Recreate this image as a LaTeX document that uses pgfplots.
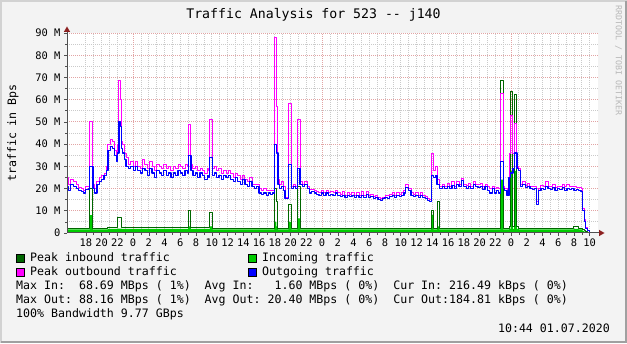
\documentclass[border=0pt]{standalone}
\usepackage{fontspec}
\setmainfont{DejaVu Sans Mono}
\usepackage{pgfplots}
\usepackage{pgfplotstable}
\pgfplotsset{compat=1.18}
\definecolor{bgc}{HTML}{F3F3F3}
\definecolor{incol}{HTML}{00CC00}
\definecolor{pincol}{HTML}{006600}
\definecolor{outcol}{HTML}{0000FF}
\definecolor{poutcol}{HTML}{FF00FF}
\definecolor{mgrid}{HTML}{E2A4A4}
\definecolor{ngrid}{HTML}{CACACA}
\definecolor{axcol}{HTML}{505050}
\definecolor{arrcol}{HTML}{8C2020}
\definecolor{wmcol}{HTML}{B8B8B8}
\definecolor{shadea}{HTML}{D2D2D2}
\definecolor{shadeb}{HTML}{A0A0A0}

\pgfplotstableread{
h inav inpk outav outpk
-8.40 1.6 2.2 21 25
-8.20 1.6 2.2 19 22
-8.00 1.6 2.2 22 24
-7.60 1.6 2.2 21 23
-7.20 1.6 2.2 20 22
-6.90 1.6 2.2 19 20.5
-6.60 1.6 2.2 18.5 20
-6.30 1.6 2.2 18 19
-6.00 1.6 2.2 19.5 21
-5.60 1.6 2.2 20 21.5
-5.50 8 20 30 50
-5.10 1.6 2.2 20 22
-4.90 1.6 2.2 18 20
-4.60 1.6 2.2 22 23
-4.30 1.6 2.2 23 25
-4.00 1.6 2.2 24 26
-3.70 1.6 2.2 26 27
-3.40 1.6 2.2 28 30
-3.20 1.8 2.5 37 40
-2.90 1.8 2.5 39 42
-2.60 1.8 2.5 38 41
-2.40 1.8 2.5 35 37
-2.10 1.8 2.5 32 34
-1.95 2 7 36 40
-1.80 2 7 50 68.7
-1.65 2 7 48 60
-1.45 1.8 2.5 38 41
-1.30 1.8 2.5 36 40
-1.10 1.8 2.5 33 36
-0.90 1.8 2.5 30 34
-0.60 1.8 2.5 29 31
-0.30 1.8 2.5 30 32
0.00 1.8 2.5 28 30
0.30 1.8 2.5 30 32
0.60 1.8 2.5 28 30
0.90 1.8 2.5 27 29
1.20 1.8 2.5 29 33
1.50 1.8 2.5 28 31
1.80 1.8 2.5 26 29
2.10 1.8 2.5 29 32
2.40 1.8 2.5 27 30
2.70 1.8 2.5 25 28
3.00 1.8 2.5 28 31
3.30 1.8 2.5 27 30
3.60 1.8 2.5 26 29
3.90 1.8 2.5 28 31
4.20 1.8 2.5 26 29
4.50 1.8 2.5 27 30
4.80 1.8 2.5 25 28
5.10 1.8 2.5 27 30
5.40 1.8 2.5 26 29
5.70 1.8 2.5 28 31
6.00 1.8 2.5 27 30
6.30 1.8 2.5 26 29
6.60 1.8 2.5 28 31
6.90 1.8 2.5 27 30
7.00 3 10 35 49
7.35 1.8 2.5 28 31
7.60 1.8 2.5 26 29
7.90 1.8 2.5 27 30
8.20 1.8 2.5 25 28
8.50 1.8 2.5 27 29
8.80 1.8 2.5 26 28
9.10 1.8 2.5 24 27
9.40 1.8 2.5 26 29
9.60 1.8 2.5 25 28
9.75 3 9 34 51
10.10 1.6 2.2 26 29
10.30 1.6 2.2 27 30
10.60 1.6 2.2 25 28
10.90 1.6 2.2 26 29
11.20 1.6 2.2 24 27
11.50 1.6 2.2 26 28
11.80 1.6 2.2 25 27
12.10 1.6 2.2 26 28
12.40 1.6 2.2 24 27
12.70 1.6 2.2 23 25
13.00 1.6 2.2 25 27
13.30 1.6 2.2 23 26
13.60 1.6 2.2 22 24
13.90 1.6 2.2 24 26
14.20 1.6 2.2 22 24
14.50 1.6 2.2 21 23
14.80 1.6 2.2 23 25
15.10 1.6 2.2 21 22
15.40 1.6 2.2 20 22
15.70 1.6 2.2 21 22
16.00 1.6 2.2 18 20
16.30 1.6 2.2 17.5 19
16.60 1.6 2.2 18 20
16.90 1.6 2.2 17 19
17.20 1.6 2.2 18 19
17.50 1.6 2.2 17.5 19
17.75 1.6 2.2 18 19
17.95 5 20 40 88.16
18.20 3 14 36 57
18.40 1.6 2.2 22 24
18.55 1.6 2.2 20 22
18.80 1.6 2.2 21 23
19.10 1.6 2.2 19 21
19.30 1.6 2.2 15.5 16
19.75 5 12.6 31 58.5
20.10 1.6 2.2 20 21
20.40 1.6 2.2 21 22
20.60 1.6 2.2 20 21
20.85 6.6 21 29 51
21.20 1.6 2.2 22 23
21.50 1.6 2.2 21 22
21.80 1.6 2.2 22 23
22.10 1.6 2.2 20 21
22.40 1.6 2.2 18 19.5
22.70 1.6 2.2 18.5 19.5
23.00 1.6 2.2 18 19
23.30 1.6 2.2 17.5 18.5
23.60 1.6 2.2 17 18
23.90 1.6 2.2 18 19
24.20 1.6 2.2 17 18
24.50 1.6 2.2 18 19
24.80 1.6 2.2 17 18
25.10 1.6 2.2 17.5 18.5
25.40 1.6 2.2 17 18
25.70 1.6 2.2 18 19
26.00 1.6 2.2 17 18
26.30 1.6 2.2 16.5 17.5
26.60 1.6 2.2 17 18.5
26.90 1.6 2.2 16 17
27.20 1.6 2.2 17 18
27.50 1.6 2.2 16.5 17.5
27.80 1.6 2.2 17 18
28.10 1.6 2.2 16 17
28.40 1.6 2.2 17 18
28.70 1.6 2.2 16 17
29.00 1.6 2.2 17 18.5
29.30 1.6 2.2 16 17
29.60 1.6 2.2 17.5 18.5
29.90 1.6 2.2 16 17
30.20 1.6 2.2 16.5 17.5
30.50 1.6 2.2 15.5 16.5
30.80 1.6 2.2 16 17
31.10 1.6 2.2 15 16
31.40 1.6 2.2 14.5 15.5
31.70 1.6 2.2 15.5 16
32.00 1.6 2.2 16 17
32.30 1.6 2.2 15.5 17
32.60 1.6 2.2 16.5 17.5
32.90 1.6 2.2 17 18
33.20 1.6 2.2 16 17
33.50 1.6 2.2 17 18
33.80 1.6 2.2 16.5 17.5
34.10 1.6 2.2 17 18
34.40 1.6 2.2 18 19
34.60 1.6 2.2 20.5 22
35.00 1.6 2.2 19 20
35.30 1.6 2.2 17 18
35.60 1.6 2.2 16.5 17.5
35.90 1.6 2.2 17 18
36.20 1.6 2.2 16 17
36.50 1.6 2.2 17 18
36.80 1.6 2.2 16 17
37.10 1.6 2.2 15.5 16.5
37.40 1.6 2.2 14.5 15.5
37.60 1.6 2.2 14 15
37.85 8 10 26 36
38.15 1.6 2.2 25 28
38.40 1.6 2.2 26 30
38.60 3 14 22 24
38.90 1.6 2.2 20 21
39.00 1.6 2.2 20 21
39.30 1.6 2.2 21 22
39.60 1.6 2.2 20 21
39.90 1.6 2.2 21 22.5
40.20 1.6 2.2 20 21
40.50 1.6 2.2 21.5 23
40.80 1.6 2.2 20 21
41.10 1.6 2.2 22 23
41.40 1.6 2.2 21 22
41.70 1.6 2.2 23.5 24.5
42.00 1.6 2.2 21 22
42.30 1.6 2.2 20 21.5
42.60 1.6 2.2 21 22.5
42.90 1.6 2.2 20 21
43.20 1.6 2.2 22 23
43.50 1.6 2.2 21 22
43.80 1.6 2.2 20.5 22
44.10 1.6 2.2 21 22.5
44.40 1.6 2.2 19.5 21
44.70 1.6 2.2 21 22
45.00 1.6 2.2 19 21
45.30 1.6 2.2 18 20
45.60 1.6 2.2 20 21
45.90 1.6 2.2 18 20
46.20 1.6 2.2 19 20.5
46.45 1.6 2.2 18 20
46.65 24 68.69 32 63
47.00 1.6 2.2 20 21
47.20 1.6 2.2 19 20
47.50 1.6 2.2 17 18
47.75 1.8 3 25 36
47.95 28 63.5 27 53
48.25 1.8 3 29 36
48.40 28 62.5 36 49.5
48.75 1.8 3 29 30
49.00 1.6 2.2 28 29
49.20 1.6 2.2 21 22
49.50 1.6 2.2 22 23
49.80 1.6 2.2 20.5 21.5
50.10 1.6 2.2 21 22.5
50.40 1.6 2.2 20 21
50.70 1.6 2.2 19.5 21
51.00 1.6 2.2 20 21
51.20 1.6 2.2 13 14
51.45 1.6 2.2 19 20
51.80 1.6 2.2 20 21.5
52.10 1.6 2.2 19.5 21
52.40 1.6 2.2 21 23
52.70 1.6 2.2 20 21
53.00 1.6 2.2 19.5 21
53.30 1.6 2.2 20.5 22
53.60 1.6 2.2 19 20.5
53.90 1.6 2.2 20 21
54.20 1.6 2.2 19.5 21
54.50 1.6 2.2 20.5 22
54.80 1.6 2.2 19 21
55.10 1.6 2.2 20 22
55.40 1.6 2.2 19.5 21
55.70 1.6 2.2 20 21
56.00 1.8 2.8 19 21
56.30 1.8 2.8 19.5 20.5
56.60 1.6 2.2 19 20.5
56.90 1.6 2.2 18.5 20
57.10 1.0 1.5 10 11
57.30 0.6 0.9 5 6
57.50 0.3 0.5 2 2.5
57.70 0.2 0.3 1 1.2
58.00 0.2 0.2 0.3 0.3
59.05 0.2 0.2 0.3 0.3
}\traffic

\newcommand{\legfont}{\fontsize{11.6}{14}\selectfont}

\begin{document}
\begin{tikzpicture}[x=1pt,y=1pt]
\fill[bgc] (0,0) rectangle (627,343);
\draw[line width=2pt, shadea] (1,0) -- (1,342) -- (627,342);
\draw[line width=2pt, shadeb] (1,1) -- (626,1) -- (626,342);

\begin{axis}[
  at={(67pt,110pt)}, anchor=south west,
  width=531pt, height=200pt, scale only axis,
  xmin=-8.4, xmax=59.05, ymin=0, ymax=90,
  axis line style={draw=none},
  axis background/.style={fill=white},
  /pgf/number format/assume math mode=true,
  xtick={-6,-4,...,58},
  xticklabels={18,20,22,0,2,4,6,8,10,12,14,16,18,20,22,0,2,4,6,8,10,12,14,16,18,20,22,0,2,4,6,8,10},
  minor x tick num=1,
  ytick={0,10,...,90},
  yticklabels={0,10 M,20 M,30 M,40 M,50 M,60 M,70 M,80 M,90 M},
  minor y tick num=1,
  xmajorgrids=true, xminorgrids=true, yminorgrids=true, ymajorgrids=false,
  major grid style={ngrid, line width=0.8pt, dash pattern=on 1pt off 1pt},
  minor grid style={ngrid, line width=0.8pt, dash pattern=on 1pt off 1pt},
  extra x ticks={0,24,48}, extra x tick labels={},
  extra y ticks={10,20,...,90}, extra y tick labels={},
  extra tick style={grid=major, major grid style={mgrid, line width=0.8pt, dash pattern=on 1pt off 1pt}},
  xtick pos=left, ytick pos=left,
  tick align=outside,
  major tick length=3pt, minor tick length=2pt,
  tick style={axcol, line width=0.6pt},
  tick label style={font=\fontsize{10.4}{12}\selectfont, text=black},
  xticklabel style={inner sep=2.5pt},
]
\addplot[const plot, fill=incol, draw=none] table[x=h, y=inav] {\traffic} \closedcycle;
\addplot[const plot, pincol, line width=1pt, line join=bevel] table[x=h, y=inpk] {\traffic};
\addplot[const plot, poutcol, line width=1pt, line join=bevel] table[x=h, y=outpk] {\traffic};
\addplot[const plot, outcol, line width=1.2pt, line join=bevel] table[x=h, y=outav] {\traffic};
\end{axis}

% axis lines with arrows
\draw[axcol, line width=1pt] (67,110) -- (600,110);
\fill[arrcol] (604.5,110) -- (599,106.8) -- (599,113.2) -- cycle;
\draw[axcol, line width=1pt] (67,110) -- (67,312);
\fill[arrcol] (67,316.5) -- (63.8,311) -- (70.2,311) -- cycle;

% title and labels
\node[anchor=base, inner sep=0, font=\fontsize{13.2}{15}\selectfont] at (313.5,324.7) {Traffic Analysis for 523 {-}{-} j140};
\node[rotate=90, inner sep=0, font=\legfont] at (13,210) {traffic in Bps};
\node[rotate=-90, anchor=west, inner sep=0, text=wmcol, font=\fontsize{8.3}{10}\selectfont] at (618.5,338) {RRDTOOL / TOBI OETIKER};

% legend
\filldraw[fill=pincol, draw=black, line width=0.6pt] (16,81) rectangle (24,89);
\node[anchor=base west, inner sep=0, font=\legfont] at (30,81) {Peak inbound traffic};
\filldraw[fill=incol, draw=black, line width=0.6pt] (248,81) rectangle (256,89);
\node[anchor=base west, inner sep=0, font=\legfont] at (262,81) {Incoming traffic};
\filldraw[fill=poutcol, draw=black, line width=0.6pt] (16,67) rectangle (24,75);
\node[anchor=base west, inner sep=0, font=\legfont] at (30,67) {Peak outbound traffic};
\filldraw[fill=outcol, draw=black, line width=0.6pt] (248,67) rectangle (256,75);
\node[anchor=base west, inner sep=0, font=\legfont] at (262,67) {Outgoing traffic};
\node[anchor=base west, inner sep=0, font=\legfont] at (16,53) {Max~In:~~68.69~MBps~(~1\%)~~Avg~In:~~~1.60~MBps~(~0\%)~~Cur~In:~216.49~kBps~(~0\%)};
\node[anchor=base west, inner sep=0, font=\legfont] at (16,39) {Max~Out:~88.16~MBps~(~1\%)~~Avg~Out:~20.40~MBps~(~0\%)~~Cur~Out:184.81~kBps~(~0\%)};
\node[anchor=base west, inner sep=0, font=\legfont] at (16,25) {100\%~Bandwidth~9.77~GBps};
\node[anchor=base east, inner sep=0, font=\legfont] at (610,10) {10:44 01.07.2020};

\pgfresetboundingbox
\path[use as bounding box] (0,0) rectangle (627,343);
\end{tikzpicture}
\end{document}
